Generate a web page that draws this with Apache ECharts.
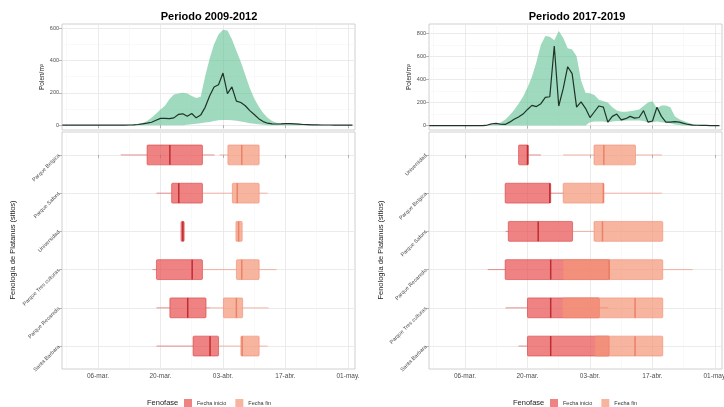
<!DOCTYPE html>
<html><head><meta charset="utf-8">
<script src="https://cdn.jsdelivr.net/npm/echarts@6/dist/echarts.min.js"></script>
<style>html,body{margin:0;padding:0;background:#fff}#c{width:724px;height:407px}</style>
</head><body><div id="c"></div>
<script>
// ---------- DATA ----------
// day of year (non-leap): 65 = 06-mar
const days = [57,58,59,60,61,62,63,64,65,66,67,68,69,70,71,72,73,74,75,76,77,78,79,80,81,82,83,84,85,86,87,88,89,90,91,92,93,94,95,96,97,98,99,100,101,102,103,104,105,106,107,108,109,110,111,112,113,114,115,116,117,118,119,120,121,122];

const leftUpper = [0,0,0,0,0,0,0,0,0,0,0,0,0,0,1,2,5,9,14,25,45,70,96,120,160,190,195,200,195,180,168,175,300,410,500,560,590,585,530,460,390,310,230,165,115,75,45,25,15,12,10,12,10,8,6,4,3,2,2,1,1,1,0,0,0,0];
const leftLower = [0,0,0,0,0,0,0,0,0,0,0,0,0,0,0,0,0,0,0,0,0,0,0,0,0,0,0,0,3,5,8,12,16,20,25,30,32,32,30,27,22,18,12,8,5,2,0,0,0,0,0,0,0,0,0,0,0,0,0,0,0,0,0,0,0,0];
const leftMean  = [0,0,0,0,0,0,0,0,0,0,0,0,0,0,0,1,2,4,8,12,18,30,42,42,40,45,66,70,55,72,45,62,110,180,236,250,322,195,236,148,140,120,90,66,40,22,12,8,7,8,10,9,8,6,4,3,2,2,1,1,1,0,0,0,0,0];

const rightUpper = [0,0,0,0,0,0,0,0,0,0,0,0,0,3,8,15,28,50,90,136,190,250,330,424,550,700,775,770,740,820,760,670,660,600,390,285,280,265,225,210,200,160,130,120,120,125,130,140,170,200,210,150,175,175,160,80,55,40,25,15,8,5,3,1,0,0];
const rightLower = [0,0,0,0,0,0,0,0,0,0,0,0,0,0,0,0,0,0,0,0,0,0,0,0,0,0,0,0,0,0,0,0,0,0,0,0,30,35,35,35,28,35,40,40,45,45,45,45,40,28,30,35,30,25,20,10,5,0,0,0,0,0,0,0,0,0];
const rightMean  = [0,0,0,0,0,0,0,0,0,0,0,0,0,5,15,20,12,10,30,55,75,100,140,175,165,190,245,250,690,170,320,510,450,160,205,150,70,120,170,160,30,80,100,50,60,80,65,70,130,30,40,160,80,30,30,35,30,20,10,5,3,2,2,0,0,0];

const leftSites  = ['Parque Belgica','Parque Safont','Universidad','Parque Tres culturas','Parque Recaredo','Santa Barbara'];
// [whisker low, Q1, median, Q3, whisker high] (day of year)
const leftInicio = [[70.1,76.0,81.1,88.4,91.1],[78.1,81.5,83.1,88.4,88.4],[83.6,83.6,84.0,84.3,84.3],[77.2,78.1,86.1,88.4,88.4],[78.1,81.1,85.1,89.2,90.1],[78.1,86.3,90.1,92.0,92.0]];
const leftFin    = [[92.2,94.1,97.2,101.1,101.1],[88.4,95.1,96.2,101.1,103.0],[95.9,95.9,96.5,97.3,97.3],[88.4,96.0,97.2,101.1,105.0],[90.1,93.1,96.0,97.4,103.2],[92.0,97.0,97.3,101.1,103.0]];

const rightSites  = ['Universidad','Parque Belgica','Parque Safont','Parque Recaredo','Parque Tres culturas','Santa Barbara'];
const rightInicio = [[77.0,77.0,79.0,79.2,82.0],[74.0,74.0,84.0,84.2,87.0],[74.1,74.7,81.4,89.1,89.1],[70.1,74.0,84.2,97.3,97.3],[74.1,79.0,84.2,95.1,97.1],[77.0,79.0,84.2,97.3,97.3]];
const rightFin    = [[87.0,93.9,96.1,103.2,109.1],[87.0,87.0,96.0,96.1,109.1],[89.1,93.9,95.8,109.3,109.3],[87.0,87.0,97.3,109.3,116.0],[86.9,86.9,103.1,109.3,109.3],[94.1,94.1,103.1,109.3,109.3]];

const dateTicks  = [65,79,93,107,121];
const dateLabels = ['06-mar.','20-mar.','03-abr.','17-abr.','01-may.'];
const dateMinor  = [58,72,86,100,114];
const leftYTicks  = [0,200,400,600];
const leftYMinor  = [100,300,500];
const rightYTicks = [0,200,400,600,800];
const rightYMinor = [100,300,500,700];
const siteTicks = [0,1,2,3,4,5];

// ---------- STYLE ----------
const FONT = '"Liberation Sans", Arial, sans-serif';
const X_MIN = 56.94, X_MAX = 122.57;
const GREEN = 'rgba(100,195,150,0.62)';
const LINE = '#1f3328';
const INI = {fill:'rgba(232,72,72,0.68)', stroke:'rgba(215,60,60,0.75)', whisk:'rgba(215,60,60,0.55)', med:'rgba(185,35,40,0.9)'};
const FIN = {fill:'rgba(244,150,120,0.7)', stroke:'rgba(240,140,112,0.75)', whisk:'rgba(240,140,112,0.6)', med:'rgba(232,120,95,0.85)'};

const grids = [
  {left:62, top:24, width:293, height:106},
  {left:62, top:132, width:293, height:237},
  {left:429, top:24, width:293, height:106},
  {left:429, top:132, width:293, height:237}
].map(g => Object.assign(g, {show:true, borderColor:'#c4c4c4', borderWidth:0.8, backgroundColor:'#fff', outerBoundsMode:'none', containLabel:false}));

const labelStyle = {fontSize:6.5, color:'#4d4d4d', fontFamily:FONT};
function majorAxis(g, min, max, ticks, fmt, showLabel, extra) {
  return Object.assign({
    type:'value', gridIndex:g, min:min, max:max,
    axisLine:{show:false},
    axisTick:{show:true, customValues:ticks, length:3, lineStyle:{color:'#8a8a8a', width:0.6}},
    axisLabel:Object.assign({show:showLabel, customValues:ticks, formatter:fmt, margin:4}, labelStyle),
    splitLine:{show:true, lineStyle:{color:'#e6e6e6', width:0.8}}
  }, extra || {});
}
function minorAxis(g, min, max, ticks, extra) {
  return Object.assign({
    type:'value', gridIndex:g, min:min, max:max,
    axisLine:{show:false},
    axisTick:{show:false, customValues:ticks},
    axisLabel:{show:false, customValues:ticks},
    splitLine:{show:ticks.length > 0, lineStyle:{color:'#f2f2f2', width:0.5}}
  }, extra || {});
}
const dateFmt = v => dateLabels[dateTicks.indexOf(Math.round(v))] || '';
const xAxes = [];
[0,1,2,3].forEach(g => {
  xAxes.push(majorAxis(g, X_MIN, X_MAX, dateTicks, dateFmt, g === 1 || g === 3));
  xAxes.push(minorAxis(g, X_MIN, X_MAX, dateMinor));
});
const yAxes = [
  majorAxis(0, -30, 625, leftYTicks, v => String(v), true, {axisLabel:Object.assign({customValues:leftYTicks, margin:3}, labelStyle, {fontSize:5.5})}),
  minorAxis(0, -30, 625, leftYMinor),
  majorAxis(1, -0.6, 5.6, siteTicks, null, true, {inverse:true, axisLabel:Object.assign({customValues:siteTicks, formatter:v => leftSites[Math.round(v)] || '', rotate:45, margin:3}, labelStyle, {fontSize:5.4})}),
  minorAxis(1, -0.6, 5.6, [], {inverse:true}),
  majorAxis(2, -38, 880, rightYTicks, v => String(v), true, {axisLabel:Object.assign({customValues:rightYTicks, margin:3}, labelStyle, {fontSize:5.5})}),
  minorAxis(2, -38, 880, rightYMinor),
  majorAxis(3, -0.6, 5.6, siteTicks, null, true, {inverse:true, axisLabel:Object.assign({customValues:siteTicks, formatter:v => rightSites[Math.round(v)] || '', rotate:45, margin:3}, labelStyle, {fontSize:5.4})}),
  minorAxis(3, -0.6, 5.6, [], {inverse:true})
];

// ribbon: one polygon through all (day, upper) then back through (day, lower), placed by the axes
function ribbonSeries(g, upper, lower) {
  return {type:'custom', xAxisIndex:2*g, yAxisIndex:2*g, silent:true,
    data: days.map((d,i) => [d, lower[i], upper[i]]),
    encode:{x:0, y:[1,2]},
    renderItem: function(params, api) {
      if (params.dataIndex !== 0) return null;
      const pts = [];
      for (let i = 0; i < days.length; i++) pts.push(api.coord([days[i], upper[i]]));
      for (let i = days.length - 1; i >= 0; i--) pts.push(api.coord([days[i], lower[i]]));
      return {type:'polygon', shape:{points:pts}, style:{fill:GREEN}};
    }};
}
function meanSeries(g, mean) {
  return {type:'line', xAxisIndex:2*g, yAxisIndex:2*g, symbol:'none', silent:true,
    lineStyle:{color:LINE, width:1.2}, data: days.map((d,i) => [d, mean[i]])};
}

function boxRenderer(s) {
  return function(params, api) {
    const y = api.value(0);
    const pLo = api.coord([api.value(1), y]);
    const pQ1 = api.coord([api.value(2), y]);
    const pMd = api.coord([api.value(3), y]);
    const pQ3 = api.coord([api.value(4), y]);
    const pHi = api.coord([api.value(5), y]);
    const h = Math.abs(api.size([0, 1])[1]) * 0.52;
    const yc = pQ1[1];
    const w = Math.max(pQ3[0] - pQ1[0], 2);
    return {type:'group', children:[
      {type:'line', shape:{x1:pLo[0], y1:yc, x2:pQ1[0], y2:yc}, style:{stroke:s.whisk, lineWidth:1}},
      {type:'line', shape:{x1:pQ3[0], y1:yc, x2:pHi[0], y2:yc}, style:{stroke:s.whisk, lineWidth:1}},
      {type:'rect', shape:{x:pQ1[0], y:yc-h/2, width:w, height:h, r:1}, style:{fill:s.fill, stroke:s.stroke, lineWidth:0.8}},
      {type:'line', shape:{x1:pMd[0], y1:yc-h/2, x2:pMd[0], y2:yc+h/2}, style:{stroke:s.med, lineWidth:1.5}}
    ]};
  };
}
function boxSeries(g, name, rows, s) {
  return {type:'custom', name:name, xAxisIndex:2*g, yAxisIndex:2*g, silent:true,
    itemStyle:{color:s.fill},
    renderItem: boxRenderer(s),
    encode:{x:[1,2,3,4,5], y:0},
    data: rows.map((r,i) => [i].concat(r))};
}

const series = [
  ribbonSeries(0, leftUpper, leftLower), meanSeries(0, leftMean),
  ribbonSeries(2, rightUpper, rightLower), meanSeries(2, rightMean),
  boxSeries(1, 'Fecha inicio', leftInicio, INI), boxSeries(1, 'Fecha fin', leftFin, FIN),
  boxSeries(3, 'Fecha inicio', rightInicio, INI), boxSeries(3, 'Fecha fin', rightFin, FIN)
];

function txt(x, y, text, size, opts) {
  return Object.assign({type:'text', x:x, y:y, silent:true,
    style:{text:text, font:(opts && opts.bold ? 'bold ' : '') + size + 'px ' + FONT, fill:(opts && opts.color) || '#000',
      textAlign:(opts && opts.align) || 'center', textVerticalAlign:'middle'}},
    opts && opts.rot ? {rotation:opts.rot} : {});
}
const graphics = [
  txt(209, 17, 'Periodo 2009-2012', 11, {bold:true}),
  txt(577, 17, 'Periodo 2017-2019', 11, {bold:true}),
  txt(42, 77, 'Polen/m³', 6.5, {rot:Math.PI/2, color:'#222'}),
  txt(409, 77, 'Polen/m³', 6.5, {rot:Math.PI/2, color:'#222'}),
  txt(13, 250, 'Fenología de Platanus (sitios)', 7.5, {rot:Math.PI/2, color:'#222'}),
  txt(381, 250, 'Fenología de Platanus (sitios)', 7.5, {rot:Math.PI/2, color:'#222'}),
  txt(147, 403, 'Fenofase', 7.5, {align:'left', color:'#222'}),
  txt(513, 403, 'Fenofase', 7.5, {align:'left', color:'#222'})
];

const legendBase = {orient:'horizontal', padding:0, itemWidth:8, itemHeight:8, itemGap:9, icon:'rect', selectedMode:false,
  textStyle:{fontSize:5.5, color:'#333', fontFamily:FONT}, data:['Fecha inicio','Fecha fin']};

const chart = echarts.init(document.getElementById('c'), null, {renderer:'canvas'});
chart.setOption({
  animation:false,
  backgroundColor:'#fff',
  textStyle:{fontFamily:FONT},
  grid: grids,
  xAxis: xAxes,
  yAxis: yAxes,
  legend: [Object.assign({left:184, top:399}, legendBase), Object.assign({left:550, top:399}, legendBase)],
  graphic: graphics,
  series: series
});
</script></body></html>
